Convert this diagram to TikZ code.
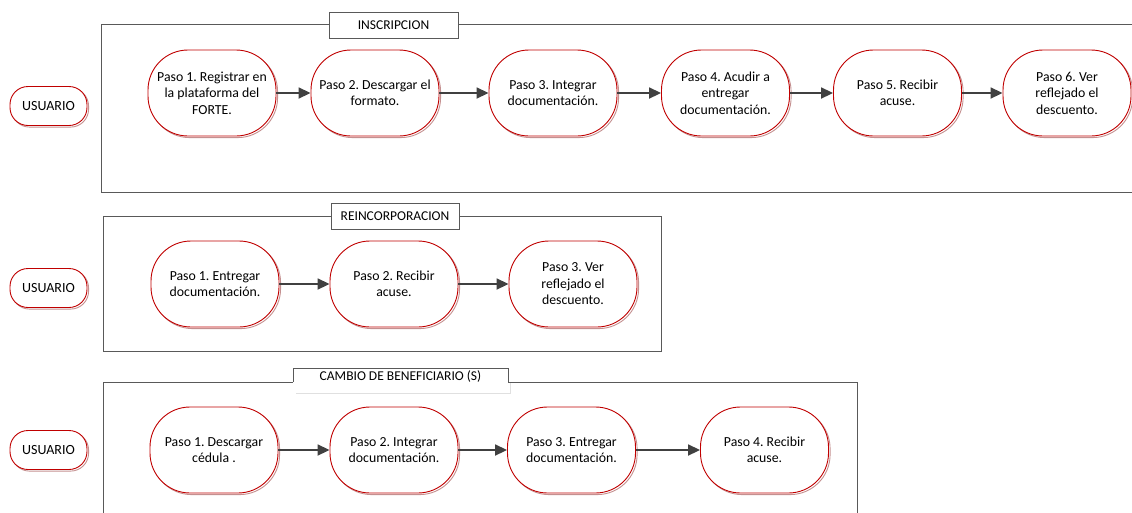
\documentclass[tikz,border=0pt]{standalone}
\usepackage{fontspec}
\setmainfont{Carlito}
\frenchspacing
\usetikzlibrary{arrows.meta,shadows}
\definecolor{nred}{HTML}{C00000}
\definecolor{frame}{HTML}{595959}
\definecolor{arr}{HTML}{404040}
\tikzset{
  stepbox/.style={draw=nred, line width=0.9pt, fill=white, rounded corners=40pt,
    minimum width=128pt, minimum height=86pt, align=center,
    font=\fontsize{13.8}{16.5}\selectfont, inner sep=2pt,
    drop shadow={shadow xshift=1.6pt, shadow yshift=-1.6pt, fill=none, draw=nred!45!gray!60, line width=0.9pt, opacity=1}},
  userbox/.style={draw=nred, line width=0.9pt, fill=white, rounded corners=18pt,
    minimum width=77pt, minimum height=39pt, font=\fontsize{14}{16}\selectfont, inner sep=1pt,
    drop shadow={shadow xshift=1.6pt, shadow yshift=-1.6pt, fill=none, draw=nred!45!gray!60, line width=0.9pt, opacity=1}},
  framebox/.style={draw=frame, line width=1pt},
  titlebox/.style={draw=frame, line width=1pt, fill=white, font=\fontsize{13.5}{15}\selectfont, inner sep=0pt},
  flow/.style={draw=arr, line width=1.8pt, -{Triangle[length=12pt,width=11pt]}},
}
\begin{document}
\begin{tikzpicture}[x=1pt,y=-1pt]
\useasboundingbox (0,0) rectangle (1132,512);
% ---------- Section 1 ----------
\draw[framebox] (1140,24) -- (101,24) -- (101,192) -- (1140,192);
\node[titlebox, minimum width=129pt, minimum height=26pt] (t1) at (393.5,25) {\raisebox{-2pt}{INSCRIPCION}};
\node[userbox] (u1) at (48.5,106) {USUARIO};
\node[stepbox] (a1) at (212,93) {Paso 1. Registrar en\\la plataforma del\\FORTE.};
\node[stepbox] (a2) at (375,93) {Paso 2. Descargar el\\formato.};
\node[stepbox] (a3) at (553,93) {Paso 3. Integrar\\documentación.};
\node[stepbox] (a4) at (725.5,93) {Paso 4. Acudir a\\entregar\\documentación.};
\node[stepbox] (a5) at (897.5,93) {Paso 5. Recibir\\acuse.};
\node[stepbox] (a6) at (1067,93) {Paso 6. Ver\\reflejado el\\descuento.};
\draw[flow] (a1) -- (a2);
\draw[flow] (a2) -- (a3);
\draw[flow] (a3) -- (a4);
\draw[flow] (a4) -- (a5);
\draw[flow] (a5) -- (a6);
% ---------- Section 2 ----------
\draw[framebox] (103,216) rectangle (661,351);
\node[titlebox, minimum width=128pt, minimum height=26pt] (t2) at (395,216) {\raisebox{-2pt}{REINCORPORACION}};
\node[userbox] (u2) at (48.5,288) {USUARIO};
\node[stepbox] (b1) at (215,284) {Paso 1. Entregar\\documentación.};
\node[stepbox] (b2) at (394,284) {Paso 2. Recibir\\acuse.};
\node[stepbox] (b3) at (573,284) {Paso 3. Ver\\reflejado el\\descuento.};
\draw[flow] (b1) -- (b2);
\draw[flow] (b2) -- (b3);
% ---------- Section 3 ----------
\draw[framebox] (103,520) -- (103,382) -- (857,382) -- (857,520);
\fill[white] (293,368) rectangle (508,392);
\draw[black!12, line width=1pt] (296,393) -- (510,393) -- (510,383);
\draw[frame, line width=1pt] (293,382) -- (293,368) -- (508,368) -- (508,382);
\node[font=\fontsize{13.5}{15}\selectfont] (t3) at (400.5,376) {CAMBIO DE BENEFICIARIO (S)};
\node[userbox] (u3) at (48.5,450) {USUARIO};
\node[stepbox] (c1) at (214,450) {Paso 1. Descargar\\cédula .};
\node[stepbox] (c2) at (394,450) {Paso 2. Integrar\\documentación.};
\node[stepbox] (c3) at (571.5,450) {Paso 3. Entregar\\documentación.};
\node[stepbox] (c4) at (764.5,450) {Paso 4. Recibir\\acuse.};
\draw[flow] (c1) -- (c2);
\draw[flow] (c2) -- (c3);
\draw[flow] (c3) -- (c4);
\end{tikzpicture}
\end{document}
